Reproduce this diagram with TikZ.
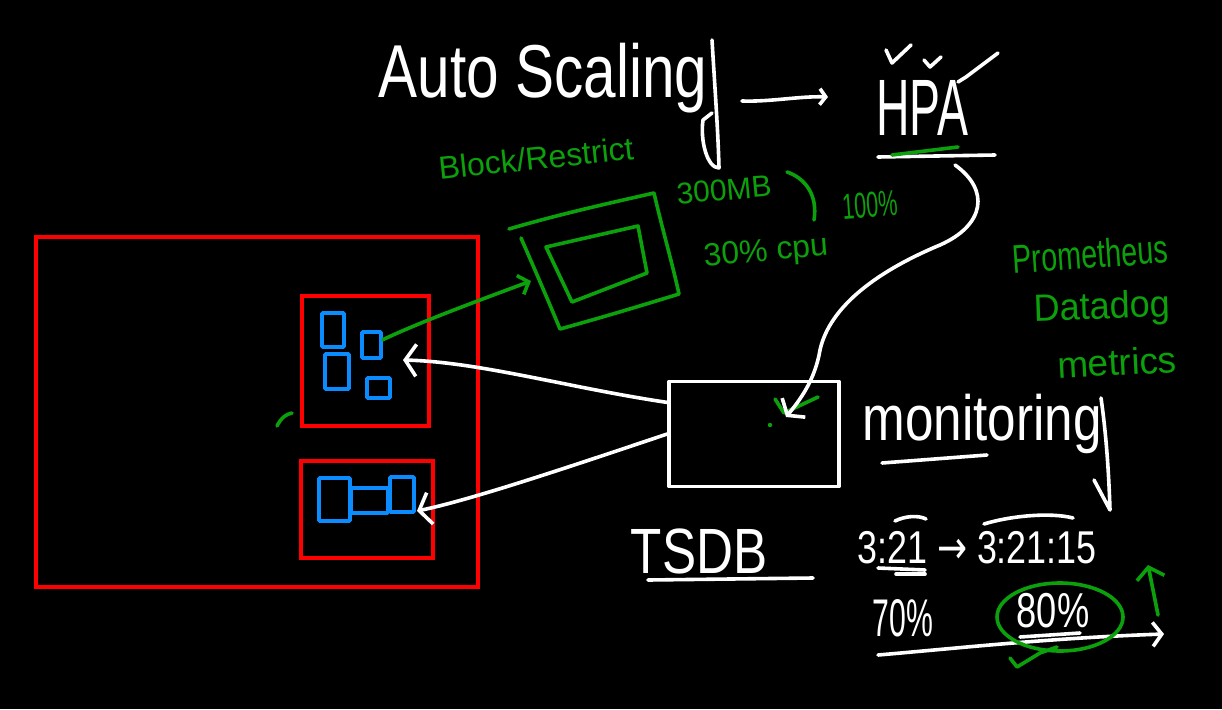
\documentclass[tikz,border=0pt]{standalone}
\usepackage{fontspec}
\setmainfont{Liberation Sans}
\newfontfamily\symfont{DejaVu Sans}
\usetikzlibrary{arrows.meta}
\definecolor{hgreen}{RGB}{12,160,12}
\definecolor{hblue}{RGB}{10,140,255}
\definecolor{hred}{RGB}{255,0,0}
\begin{document}
\begin{tikzpicture}[x=1pt,y=-1pt,
  wl/.style={white,line width=3.6pt,line cap=round,line join=round},
  gl/.style={hgreen,line width=3.6pt,line cap=round,line join=round},
  redbox/.style={draw=hred,line width=3.8pt,inner sep=0pt},
  bluebox/.style={draw=hblue,line width=3.6pt,inner sep=0pt,rounded corners=1pt},
  wbox/.style={draw=white,line width=3.6pt,inner sep=0pt,line join=round},
  wtext/.style={text=white,inner sep=0pt},
  gtext/.style={text=hgreen,inner sep=0pt},
  wtip/.style={-{Straight Barb[length=11pt,width=32pt]}},
  smalltip/.style={-{Straight Barb[length=6pt,width=16pt]}},
  gtip/.style={-{Straight Barb[length=9pt,width=20pt]}}
]
\fill[black] (0,0) rectangle (1222,709);
\useasboundingbox (0,0) rectangle (1222,709);

% ---------- host and pods ----------
\node[redbox,minimum width=442pt,minimum height=350pt] (host) at (257,412) {};
\node[redbox,minimum width=127pt,minimum height=130pt] (pod1) at (365.5,361) {};
\node[redbox,minimum width=132pt,minimum height=97pt] (pod2) at (367,509.5) {};

\node[bluebox,minimum width=22pt,minimum height=34pt] (c1) at (333,330) {};
\node[bluebox,minimum width=19pt,minimum height=26pt] (c2) at (371.5,345) {};
\node[bluebox,minimum width=24pt,minimum height=35pt] (c3) at (337,371.5) {};
\node[bluebox,minimum width=23pt,minimum height=20pt] (c4) at (378.5,388) {};

\node[bluebox,minimum width=31pt,minimum height=43pt] (d1) at (334.5,499.5) {};
\node[bluebox,minimum width=37pt,minimum height=25pt] (d2) at (369.5,500.5) {};
\node[bluebox,minimum width=24pt,minimum height=35pt] (d3) at (402,494.5) {};

\draw[gl] (277,426) .. controls (281,418) and (286,414) .. (292,413);

% ---------- limits box (green) ----------
\coordinate (g1) at (509,229);
\coordinate (g2) at (654,193);
\coordinate (g3) at (679,294);
\coordinate (g4) at (560,329);
\coordinate (g5) at (521,238);
\draw[gl] (g1) .. controls (560,214) and (610,203) .. (g2)
          .. controls (662,228) and (672,262) .. (g3)
          .. controls (640,306) and (600,318) .. (g4)
          .. controls (548,300) and (535,270) .. (g5);
\draw[gl] (546,247) -- (638,226) -- (647,273) -- (572,302) -- cycle;
\coordinate (gin) at (531,281);
\draw[gl,gtip] (c2.25) .. controls (420,322) and (480,300) .. (gin);

\node[gtext,rotate=6,font=\fontsize{32}{32}\selectfont] (block) at (536,158) {Block/Restrict};
\node[gtext,rotate=5,font=\fontsize{30}{30}\selectfont] (mem) at (724,190) {300MB};
\draw[gl] (787,172) .. controls (805,178) and (818,195) .. (814,220);
\node[gtext,rotate=5,font=\fontsize{32}{32}\selectfont] (cpu) at (766,253) {30\% cpu};
\node[gtext,rotate=4,font=\fontsize{36}{36}\selectfont] (full) at (870,205) {\scalebox{0.6}[1]{100\%}};

% ---------- title ----------
\node[wtext,anchor=base,font=\fontsize{75}{75}\selectfont] (autoscaling) at (543,97) {\scalebox{0.78}[1]{Auto Scaling}};
\draw[wl] (712,40) .. controls (715,90) and (718,130) .. (719,168)
          .. controls (707,168) and (700,140) .. (703,120) -- (712,113);
\coordinate (asout) at (742,101);
\coordinate (hpain) at (828,97);
\draw[wl,smalltip] (asout) .. controls (770,102) and (800,96) .. (hpain);

\node[wtext,anchor=base,font=\fontsize{80}{80}\selectfont] (hpa) at (922,135) {\scalebox{0.58}[1]{HPA}};
\draw[wl] (886,50) -- (892,63) -- (911,45);
\draw[wl] (924,60) -- (930,67) -- (941,57);
\draw[wl] (958,82) -- (966,77) -- (998,53);
\draw[wl] (878,157) -- (995,155);
\draw[gl] (892,155) -- (958,147);

% ---------- monitoring store ----------
\node[wbox,minimum width=170pt,minimum height=105pt] (tsdb) at (754,434) {};
\draw[gl] (775,399) -- (784,413) -- (818,397);
\fill[hgreen] (770,425) circle (2.2);

\coordinate (hpaout) at (955,165);
\coordinate (tsdbin) at (786,417);
\draw[wl,-{Straight Barb[length=10pt,width=30pt]}] (hpaout) .. controls (990,190) and (985,225) .. (940,245)
   .. controls (880,270) and (830,305) .. (820,350) .. controls (815,380) and (800,400) .. (tsdbin);

\coordinate (p1in) at (403,360);
\coordinate (p2in) at (417,511);
\draw[wl,wtip] (tsdb.160) .. controls (570,388) and (480,362) .. (p1in);
\draw[wl,wtip] (tsdb.west) .. controls (560,470) and (470,500) .. (p2in);

\node[wtext,anchor=base,font=\fontsize{64}{64}\selectfont] (tsdbl) at (699,573) {\scalebox{0.8}[1]{TSDB}};
\draw[wl] (648,580) -- (813,578);

\node[wtext,anchor=base,font=\fontsize{64}{64}\selectfont] (monitoring) at (982,440) {\scalebox{0.8}[1]{monitoring}};
\draw[wl] (882,463) -- (987,455);
\draw[wl] (1101,398) .. controls (1107,440) and (1109,480) .. (1110,510) -- (1094,480);

\node[gtext,rotate=4,font=\fontsize{40}{40}\selectfont] (prom) at (1090,254) {\scalebox{0.72}[1]{Prometheus}};
\node[gtext,rotate=2,font=\fontsize{38}{38}\selectfont] (dd) at (1102,309) {\scalebox{0.95}[1]{Datadog}};
\node[gtext,rotate=3,font=\fontsize{37}{37}\selectfont] (met) at (1117,362) {metrics};

% ---------- time / threshold ----------
\node[wtext,anchor=base west,font=\fontsize{46}{46}\selectfont] (times) at (857,563) {\scalebox{0.78}[1]{3:21 {\symfont →} 3:21:15}};
\draw[wl] (895,521) .. controls (905,516) and (918,515) .. (926,519);
\draw[wl] (984,524) .. controls (1010,516) and (1050,512) .. (1073,518);
\draw[wl] (878,568) -- (925,570);
\draw[wl] (896,574) -- (925,574);

\node[wtext,anchor=base,font=\fontsize{53}{53}\selectfont] (seventy) at (903,636) {\scalebox{0.57}[1]{70\%}};
\node[wtext,anchor=base,font=\fontsize{49}{49}\selectfont] (eighty) at (1053,627) {\scalebox{0.74}[1]{80\%}};
\draw[wl] (1020,637) -- (1080,633);
\coordinate (axis0) at (878,655);
\coordinate (axis1) at (1164,634);
\draw[wl,-{Straight Barb[length=9pt,width=24pt]}] (axis0) .. controls (960,648) and (1050,638) .. (axis1);
\draw[gl] (1060,617) ellipse [x radius=63, y radius=34];
\draw[gl] (1010,658) -- (1017,667) -- (1040,653) -- (1057,647);
\coordinate (up0) at (1158,615);
\coordinate (up1) at (1148,565);
\draw[gl,-{Straight Barb[length=11pt,width=28pt]}] (up0) -- (up1);
\end{tikzpicture}
\end{document}
